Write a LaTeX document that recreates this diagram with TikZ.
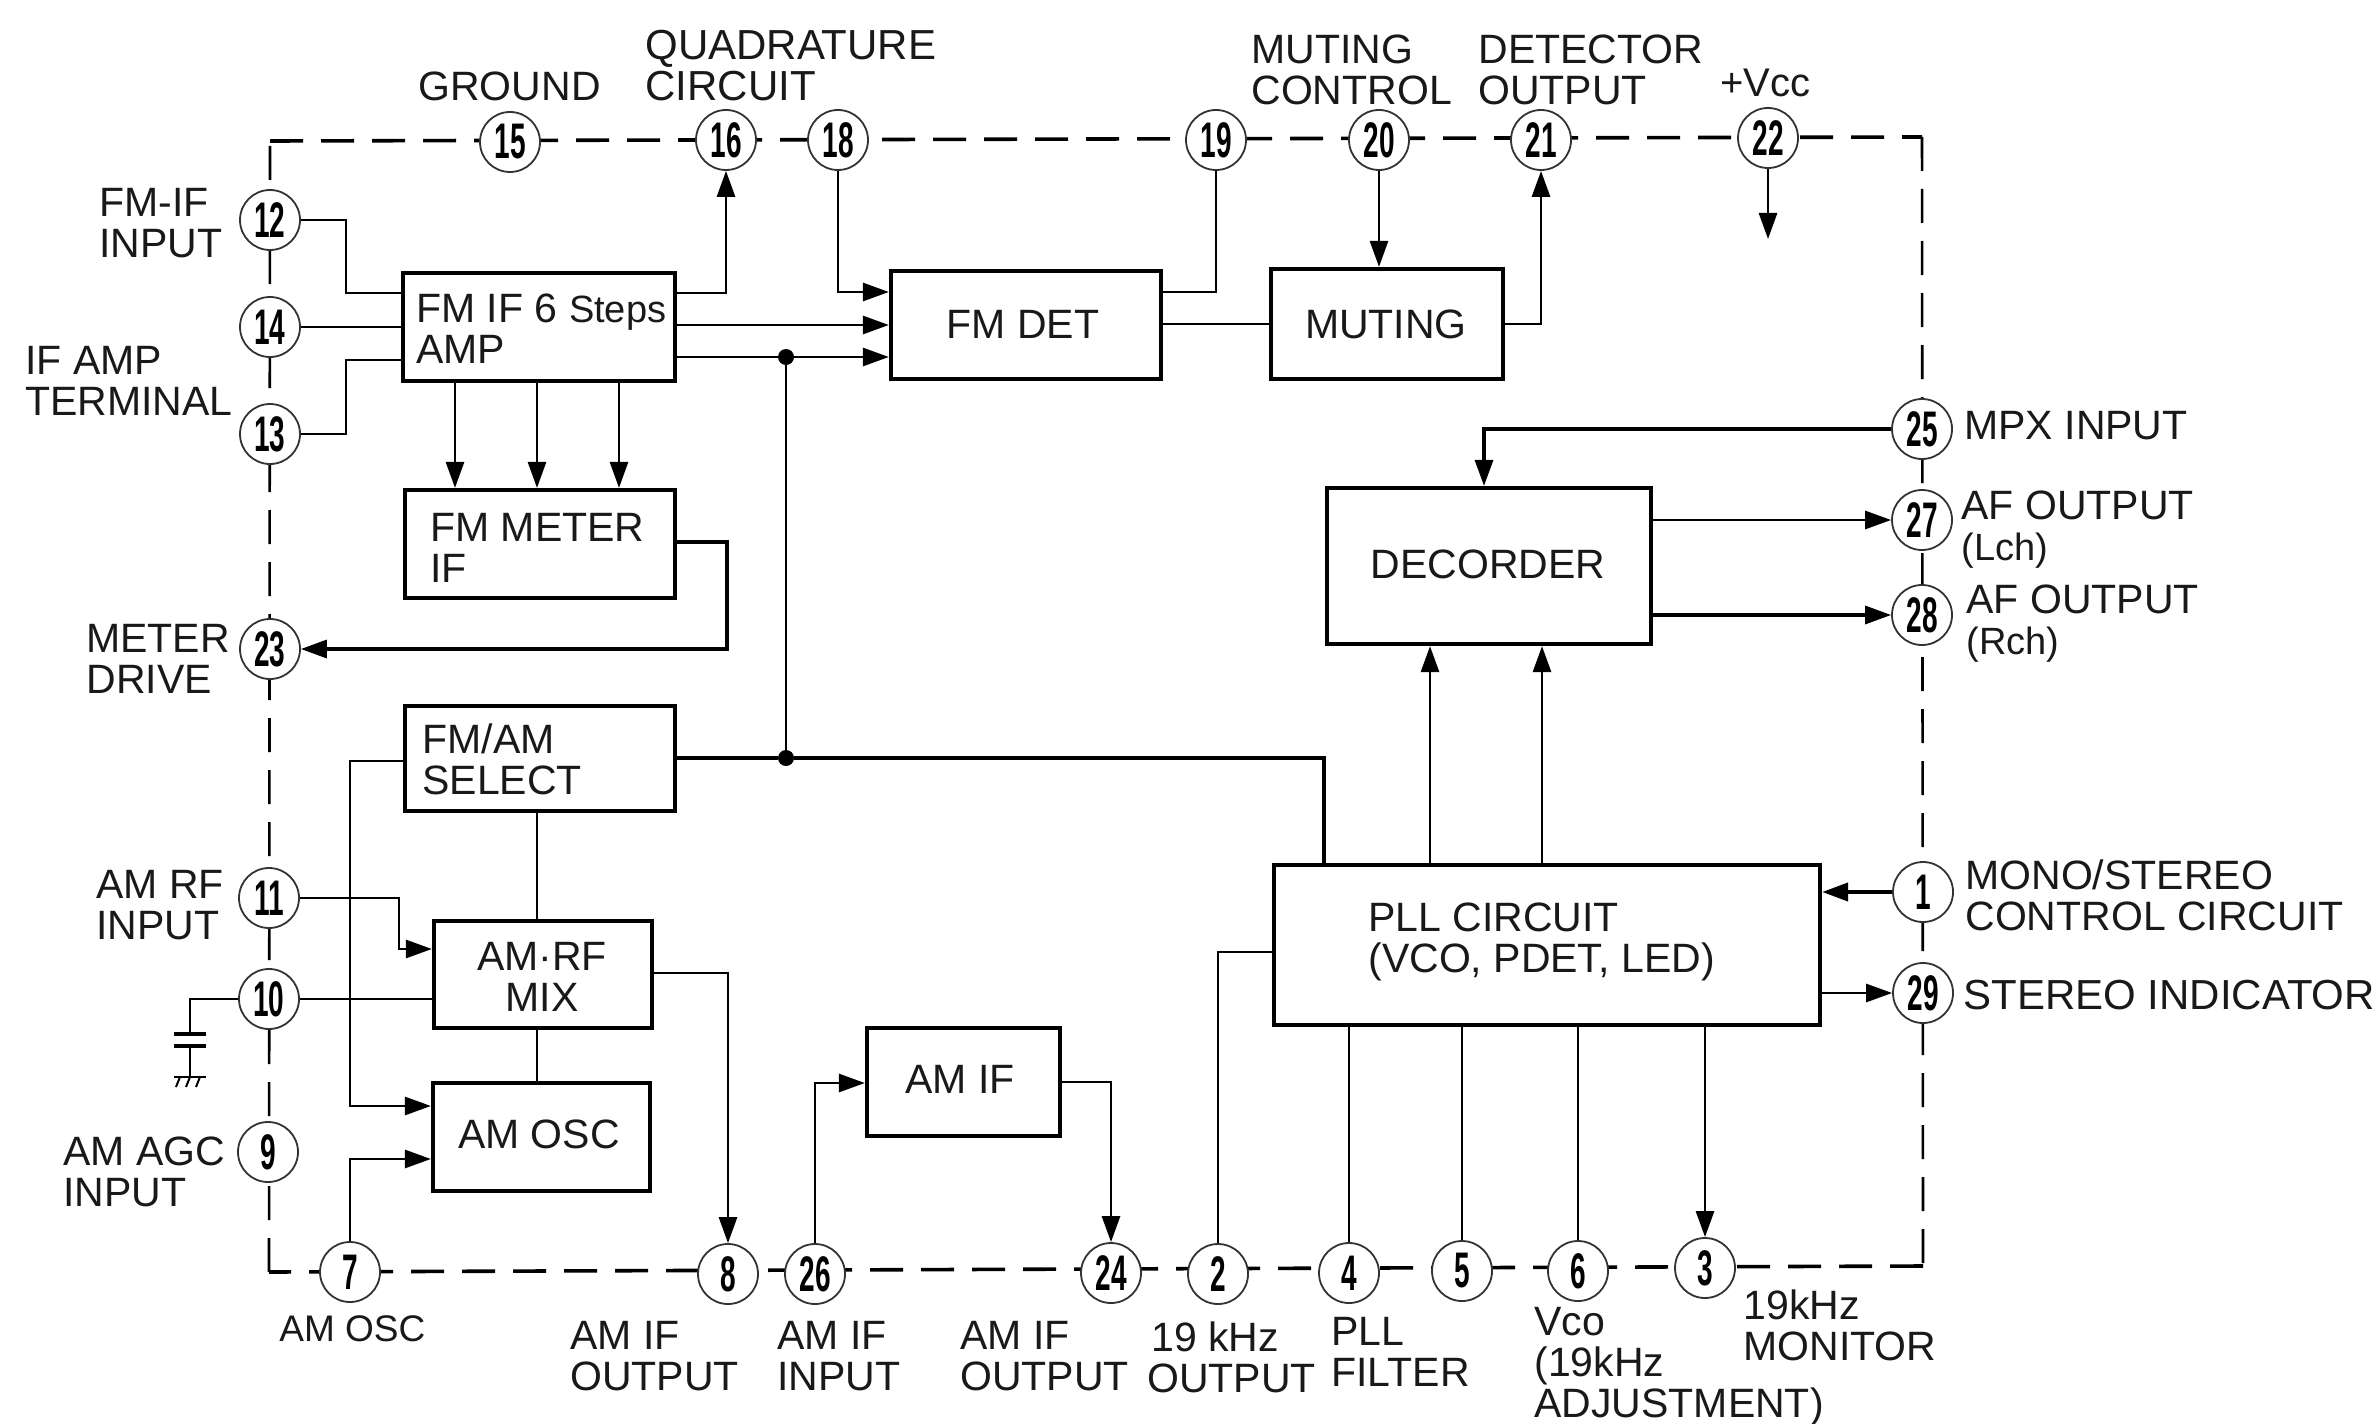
\documentclass[tikz,border=0pt]{standalone}
\usepackage{fontspec}
\setmainfont{Liberation Sans}
\usetikzlibrary{arrows.meta,fit}
\newcommand\pinnum[1]{\scalebox{.56}[1]{\bfseries #1}}
\tikzset{
  boxs/.style={draw=black,line width=2.1pt,inner sep=0pt},
  ctxt/.style={inner sep=0pt,align=center,text=black!90,font=\fontsize{20.5}{20.5}\selectfont},
  pinc/.style={circle,draw=black!80,line width=.9pt,fill=white,minimum size=30pt,inner sep=0pt,font=\fontsize{25}{25}\selectfont},
  lbl/.style={anchor=west,inner sep=0pt,align=left,text=black!90,font=\fontsize{20.5}{20.5}\selectfont},
  wire/.style={draw=black,line width=1.4pt,line join=miter},
  heavy/.style={line width=1.65pt},
  tip/.style={wire,-{Triangle[length=13pt,width=9pt]}},
  jdot/.style={circle,fill=black,minimum size=8pt,inner sep=0pt},
  borderh/.style={draw=black,line width=1.8pt,dash pattern=on 16.5pt off 9pt},
  borderv/.style={draw=black,line width=1.3pt,dash pattern=on 17pt off 9pt}
}
\begin{document}
\begin{tikzpicture}[x=.5pt,y=-.5pt]
\fill[white] (0,0) rectangle (2380,1423);
\useasboundingbox (0,0) rectangle (2380,1423);

% IC outline
\coordinate (c1) at (270,141);
\coordinate (c2) at (1922,137);
\coordinate (c3) at (1923,1266);
\coordinate (c4) at (269,1272);
\draw[borderh] (c1) -- (c2);
\draw[borderv] (c2) -- (c3);
\draw[borderh] (c3) -- (c4);
\draw[borderv] (c4) -- (c1);

% Blocks
\node[boxs,fit={(403,273)(675,381)}] (fmif) {};
\node[boxs,fit={(891,271)(1161,379)}] (fmdet) {};
\node[boxs,fit={(1271,269)(1503,379)}] (muting) {};
\node[boxs,fit={(405,490)(675,598)}] (fmmeter) {};
\node[boxs,fit={(1327,488)(1651,644)}] (dec) {};
\node[boxs,fit={(405,706)(675,811)}] (fmsel) {};
\node[boxs,fit={(434,921)(652,1028)}] (amrf) {};
\node[boxs,fit={(433,1083)(650,1191)}] (amosc) {};
\node[boxs,fit={(867,1028)(1060,1136)}] (amif) {};
\node[boxs,fit={(1274,865)(1820,1025)}] (pll) {};

% Block texts
\node[ctxt] (tdet) at (1023,324) {FM DET};
\node[ctxt] (tmut) at (1386,324) {MUTING};
\node[ctxt] (tdec) at (1488,564) {DECORDER};
\node[ctxt] (trf) at (542,977) {AM·RF\\MIX};
\node[ctxt] (tosc) at (539,1134) {AM OSC};
\node[ctxt] (tif) at (960,1079) {AM IF};
\node[lbl] (tfmif) at (416,329) {FM IF 6 {\fontsize{19}{20.5}\selectfont Steps}\\AMP};
\node[lbl] (tmeter) at (430,548) {FM METER\\IF};
\node[lbl] (tsel) at (422,759) {FM/AM\\SELECT};
\node[lbl] (tpll) at (1368,942) {PLL CIRCUIT\\(VCO, PDET, LED)};

% Pins
\foreach \n/\x/\y in {15/510/142,16/726/140,18/838/140,19/1216/140,20/1379/140,21/1541/140,22/1768/138,
  12/270/220,14/270/327,13/270/434,23/270/649,11/269/898,10/269/999,9/268/1152,
  7/350/1272,8/728/1274,26/815/1274,24/1111/1273,2/1218/1274,4/1349/1273,5/1462/1271,6/1578/1271,3/1705/1268,
  25/1922/429,27/1922/520,28/1922/615,1/1923/892,29/1923/993}
  \node[pinc] (p\n) at (\x,\y) {\pinnum{\n}};

% Junctions
\node[jdot] (j1) at (786,357) {};
\node[jdot] (j2) at (786,758) {};
\coordinate (vccend) at (1768,239);

% Connectors: FM section
\draw[wire] (p12) -- (346,220) -- (346,293) -- (fmif.west |- 0,293);
\draw[wire] (p14) -- (fmif.west |- p14);
\draw[wire] (p13) -- (346,434) -- (346,360) -- (fmif.west |- 0,360);
\draw[tip] (fmif.east |- 0,293) -- (726,293) -- (p16);
\draw[tip] (fmif.east |- 0,325) -- (fmdet.west |- 0,325);
\draw[tip] (fmif.east |- 0,357) -- (fmdet.west |- 0,357);
\draw[tip] (p18) -- (838,292) -- (fmdet.west |- 0,292);
\foreach \x in {455,537,619}
  \draw[tip] (\x,0 |- fmif.south) -- (\x,0 |- fmmeter.north);
\draw[tip,heavy] (fmmeter.east |- 0,542) -- (727,542) -- (727,649) -- (p23);
\draw[wire] (j1) -- (j2);
\draw[wire,heavy] (fmsel.east |- j2) -- (j2) -- (1324,758) -- (1324,0 |- pll.north);
\draw[wire] (p19) -- (1216,292) -- (fmdet.east |- 0,292);
\draw[wire] (fmdet.east |- 0,324) -- (muting.west |- 0,324);
\draw[tip] (p20) -- (p20 |- muting.north);
\draw[tip] (muting.east |- 0,324) -- (p21 |- 0,324) -- (p21);
\draw[tip] (p22) -- (vccend);

% Decoder and PLL
\draw[tip,heavy] (p25) -- (1484,429) -- (1484,0 |- dec.north);
\draw[tip] (dec.east |- p27) -- (p27);
\draw[tip,heavy] (dec.east |- p28) -- (p28);
\draw[tip] (1430,0 |- pll.north) -- (1430,0 |- dec.south);
\draw[tip] (1542,0 |- pll.north) -- (1542,0 |- dec.south);
\draw[tip,line width=2pt] (p1) -- (pll.east |- p1);
\draw[tip] (pll.east |- p29) -- (p29);
\draw[wire] (p2) -- (p2 |- 0,952) -- (pll.west |- 0,952);
\draw[wire] (p4 |- pll.south) -- (p4);
\draw[wire] (p5 |- pll.south) -- (p5);
\draw[wire] (p6 |- pll.south) -- (p6);
\draw[tip] (p3 |- pll.south) -- (p3);

% AM section
\draw[tip] (fmsel.west |- 0,761) -- (350,761) -- (350,1106) -- (amosc.west |- 0,1106);
\draw[wire] (537,0 |- fmsel.south) -- (537,0 |- amrf.north);
\draw[wire] (537,0 |- amrf.south) -- (537,0 |- amosc.north);
\draw[tip] (p11) -- (399,898) -- (399,949) -- (amrf.west |- 0,949);
\draw[wire] (p10) -- (amrf.west |- p10);
\draw[tip] (p7) -- (350,1159) -- (amosc.west |- 0,1159);
\draw[tip] (amrf.east |- 0,973) -- (p8 |- 0,973) -- (p8);
\draw[tip] (p26) -- (815,1083) -- (amif.west |- 0,1083);
\draw[tip] (amif.east |- 0,1082) -- (p24 |- 0,1082) -- (p24);

% Capacitor to ground on pin 10
\draw[wire] (p10) -- (190,999) -- (190,1034);
\draw[wire,line width=1.8pt] (174,1034) -- (206,1034);
\draw[wire,line width=1.8pt] (174,1046) -- (206,1046);
\draw[wire] (190,1046) -- (190,1077);
\draw[wire] (174,1077) -- (206,1077);
\foreach \x in {180,190,200}
  \draw[wire,line width=1pt] (\x,1077) -- (\x-4,1087);

% Labels
\node[lbl] (l15) at (418,86) {GROUND};
\node[lbl,font=\fontsize{21}{20.5}\selectfont] (l16) at (645,66) {QUADRATURE\\CIRCUIT};
\node[lbl] (l20) at (1251,70) {MUTING\\CONTROL};
\node[lbl] (l21) at (1478,70) {DETECTOR\\OUTPUT};
\node[lbl,font=\fontsize{20}{20}\selectfont] (l22) at (1720,83) {+Vcc};
\node[lbl] (l12) at (99,223) {FM-IF\\INPUT};
\node[lbl] (l13) at (25,381) {IF AMP\\TERMINAL};
\node[lbl] (l23) at (86,659) {METER\\DRIVE};
\node[lbl] (l11) at (96,905) {AM RF\\INPUT};
\node[lbl] (l9) at (63,1172) {AM AGC\\INPUT};
\node[lbl] (l25) at (1964,426) {MPX INPUT};
\node[lbl] (l27) at (1961,530) {AF OUTPUT\\{\fontsize{19}{20.5}\selectfont (Lch)}};
\node[lbl] (l28) at (1966,624) {AF OUTPUT\\{\fontsize{19}{20.5}\selectfont (Rch)}};
\node[lbl] (l1) at (1965,895) {MONO/STEREO\\CONTROL CIRCUIT};
\node[lbl,font=\fontsize{21}{20.5}\selectfont] (l29) at (1963,995) {STEREO INDICATOR};
\node[lbl,font=\fontsize{18.5}{20}\selectfont] (l7) at (279,1329) {AM OSC};
\node[lbl] (l8) at (570,1356) {AM IF\\OUTPUT};
\node[lbl] (l26) at (777,1356) {AM IF\\INPUT};
\node[lbl] (l24) at (960,1356) {AM IF\\OUTPUT};
\node[lbl] (l2) at (1147,1357) {\hspace*{2pt}19 kHz\\OUTPUT};
\node[lbl] (l4) at (1331,1352) {PLL\\FILTER};
\node[lbl] (l6) at (1534,1367) {Vco\\(19kHz\\ADJUSTMENT)};
\node[lbl] (l3) at (1743,1325) {19kHz\\MONITOR};
\end{tikzpicture}
\end{document}
